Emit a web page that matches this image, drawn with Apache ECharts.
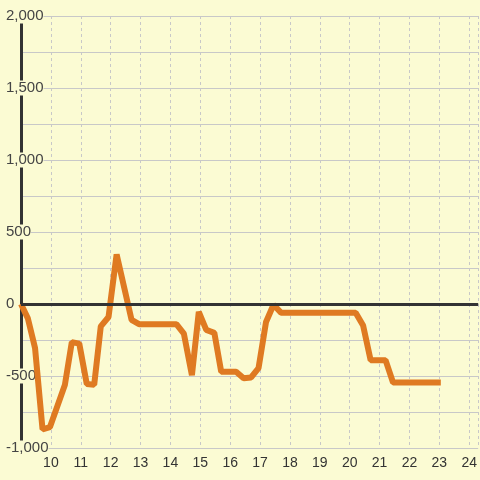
<!DOCTYPE html>
<html>
<head>
<meta charset="utf-8">
<script src="https://cdn.jsdelivr.net/npm/echarts@6/dist/echarts.min.js"></script>
<style>
  html, body { margin: 0; padding: 0; background: #fbfbd3; }
  #chart { width: 480px; height: 480px; }
</style>
</head>
<body>
<div id="chart"></div>
<script>
const xValues = [9.0, 9.23, 9.47, 9.72, 9.97, 10.47, 10.7, 10.95, 11.2, 11.45, 11.67, 11.93, 12.2, 12.7, 12.95,
  14.2, 14.45, 14.72, 14.95, 15.2, 15.47, 15.7, 16.2, 16.45, 16.7, 16.95, 17.2, 17.45, 17.7,
  20.2, 20.45, 20.7, 21.2, 21.45, 23.05]
const yValues = [0, -100, -305, -870, -855, -560, -265, -275, -555, -560, -155, -90, 345, -110, -140,
  -140, -205, -495, -55, -180, -200, -470, -470, -515, -510, -445, -125, -5, -60,
  -60, -150, -390, -390, -545, -545]

const bgColor = '#fbfbd3'
const lineColor = '#df7a22'

const chart = echarts.init(document.getElementById('chart'), null, { renderer: 'canvas' })

chart.setOption({
  backgroundColor: bgColor,
  animation: false,
  grid: { left: 21, right: 0, top: 16, bottom: 32 },
  xAxis: {
    type: 'value',
    min: 9,
    max: 24.3,
    interval: 1,
    axisLine: { show: false },
    axisTick: { show: false },
    axisLabel: {
      color: '#333',
      fontSize: 14,
      fontFamily: 'Liberation Sans',
      showMinLabel: false,
      showMaxLabel: false,
      margin: 8,
    },
    splitLine: { show: true, lineStyle: { color: '#c8c8c8', type: [3, 3], width: 1 } },
  },
  yAxis: {
    type: 'value',
    min: -1000,
    max: 2000,
    interval: 250,
    axisLine: { show: true, lineStyle: { color: '#333', width: 3 } },
    axisTick: { show: false },
    axisLabel: {
      color: '#444',
      fontSize: 15,
      fontFamily: 'Liberation Sans',
      align: 'left',
      margin: 15,
      backgroundColor: bgColor,
      formatter: (v) => (v % 500 === 0 ? v.toLocaleString('en-US') : ''),
    },
    splitLine: { lineStyle: { color: '#c8c8c8', width: 1 } },
  },
  series: [
    {
      type: 'line',
      data: [],
      z: 1,
      markLine: {
        silent: true,
        symbol: 'none',
        label: { show: false },
        lineStyle: { color: '#333', width: 3, type: 'solid' },
        data: [{ yAxis: 0 }],
      },
    },
    {
      type: 'line',
      z: 3,
      showSymbol: false,
      data: xValues.map((x, i) => [x, yValues[i]]),
      lineStyle: { color: lineColor, width: 6, join: 'bevel' },
      itemStyle: { color: lineColor },
    },
  ],
})
</script>
</body>
</html>
